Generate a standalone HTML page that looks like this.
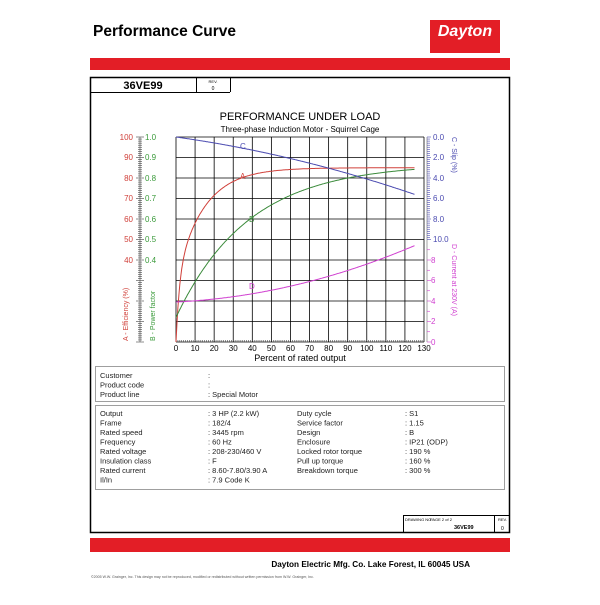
<!DOCTYPE html>
<html><head><meta charset="utf-8"><style>
body{margin:0;background:#fff;width:600px;height:600px;overflow:hidden;font-family:"Liberation Sans",Arial,sans-serif}
</style></head><body>
<svg id="s" width="600" height="600" xmlns="http://www.w3.org/2000/svg" font-family="Liberation Sans, Arial, sans-serif">
<text x="93" y="36" font-size="15.5" font-weight="bold">Performance Curve</text>
<rect x="430" y="20" width="70" height="33" fill="#e31e26"/>
<text x="465" y="36" font-size="16" font-weight="bold" font-style="italic" fill="#fff" text-anchor="middle">Dayton</text>
<rect x="90" y="58" width="420" height="12" fill="#e31e26"/>
<rect x="90.5" y="77.5" width="419" height="455" fill="none" stroke="#000" stroke-width="1.5"/>
<path d="M90 92.5H230M196.5 77V92M230.5 77V92" stroke="#000" stroke-width="1"/>
<text x="143" y="89" font-size="11" font-weight="bold" text-anchor="middle">36VE99</text>
<text x="213" y="83" font-size="4" text-anchor="middle">REV.</text>
<text x="213" y="90" font-size="5" text-anchor="middle">0</text>
<text x="300" y="120" font-size="11" text-anchor="middle">PERFORMANCE UNDER LOAD</text>
<text x="300" y="132" font-size="8" text-anchor="middle">Three-phase Induction Motor - Squirrel Cage</text>
<g id="grid" stroke="#000" stroke-width="0.8"></g>
<g id="ticks" stroke-width="0.6"></g>
<g font-size="8" fill="#d0403a" text-anchor="end">
<text x="133" y="140">100</text><text x="133" y="160">90</text><text x="133" y="181">80</text><text x="133" y="201">70</text><text x="133" y="222">60</text><text x="133" y="242">50</text><text x="133" y="263">40</text>
</g>
<g font-size="8" fill="#3a9a3a">
<text x="145" y="140">1.0</text><text x="145" y="160">0.9</text><text x="145" y="181">0.8</text><text x="145" y="201">0.7</text><text x="145" y="222">0.6</text><text x="145" y="242">0.5</text><text x="145" y="263">0.4</text>
</g>
<text transform="translate(128,341) rotate(-90)" font-size="7" fill="#d0403a">A - Efficiency (%)</text>
<text transform="translate(155,341) rotate(-90)" font-size="7" fill="#3a9a3a">B - Power factor</text>
<g font-size="8" fill="#4a4ab0">
<text x="433" y="140">0.0</text><text x="433" y="160">2.0</text><text x="433" y="181">4.0</text><text x="433" y="201">6.0</text><text x="433" y="222">8.0</text><text x="433" y="242">10.0</text>
</g>
<g font-size="8" fill="#d040d0">
<text x="431" y="263">8</text><text x="431" y="283">6</text><text x="431" y="304">4</text><text x="431" y="324">2</text><text x="431" y="345">0</text>
</g>
<text transform="translate(452,137) rotate(90)" font-size="7" fill="#4a4ab0">C - Slip (%)</text>
<text transform="translate(452,244) rotate(90)" font-size="7" fill="#d040d0">D - Current at 230V (A)</text>
<g id="xl" font-size="8" text-anchor="middle"></g>
<text x="300" y="361" font-size="9" text-anchor="middle">Percent of rated output</text>
<g fill="none" stroke-width="1">
<polyline id="A" stroke="#d0403a"/>
<polyline id="B" stroke="#3a8a3a"/>
<polyline id="C" stroke="#4a4ab0"/>
<polyline id="D" stroke="#d040d0"/>
</g>
<text x="240" y="179" font-size="8" fill="#d0403a">A</text>
<text x="249" y="222" font-size="8" fill="#3a8a3a">B</text>
<text x="240" y="149" font-size="8" fill="#4a4ab0">C</text>
<text x="249" y="289" font-size="8" fill="#d040d0">D</text>
<rect x="95.5" y="366.5" width="409" height="35" fill="none" stroke="#888" stroke-width="0.8"/>
<rect x="95.5" y="405.5" width="409" height="84" fill="none" stroke="#888" stroke-width="0.8"/>
<g font-size="7.5" fill="#222">
<text x="100" y="378">Customer</text><text x="208" y="378">:</text>
<text x="100" y="387.5">Product code</text><text x="208" y="387.5">:</text>
<text x="100" y="397">Product line</text><text x="208" y="397">:  Special Motor</text>
<text x="100" y="416">Output</text><text x="208" y="416">:  3 HP (2.2 kW)</text>
<text x="100" y="425.5">Frame</text><text x="208" y="425.5">:  182/4</text>
<text x="100" y="435">Rated speed</text><text x="208" y="435">:  3445 rpm</text>
<text x="100" y="444.5">Frequency</text><text x="208" y="444.5">:  60 Hz</text>
<text x="100" y="454">Rated voltage</text><text x="208" y="454">:  208-230/460 V</text>
<text x="100" y="463.5">Insulation class</text><text x="208" y="463.5">:  F</text>
<text x="100" y="473">Rated current</text><text x="208" y="473">:  8.60-7.80/3.90 A</text>
<text x="100" y="482.5">Il/In</text><text x="208" y="482.5">:  7.9   Code K</text>
<text x="297" y="416">Duty cycle</text><text x="405" y="416">:  S1</text>
<text x="297" y="425.5">Service factor</text><text x="405" y="425.5">:  1.15</text>
<text x="297" y="435">Design</text><text x="405" y="435">:  B</text>
<text x="297" y="444.5">Enclosure</text><text x="405" y="444.5">:  IP21 (ODP)</text>
<text x="297" y="454">Locked rotor torque</text><text x="405" y="454">:  190 %</text>
<text x="297" y="463.5">Pull up torque</text><text x="405" y="463.5">:  160 %</text>
<text x="297" y="473">Breakdown torque</text><text x="405" y="473">:  300 %</text>
</g>
<path d="M403.5 515V532M403.5 515.5H510M494.5 515V532" stroke="#000" stroke-width="1"/>
<text x="405" y="521" font-size="4">DRAWING NO.</text>
<text x="430" y="521" font-size="4">PAGE 2 of 2</text>
<text x="498" y="521" font-size="4">REV.</text>
<text x="454" y="529" font-size="5.5" font-weight="bold">36VE99</text>
<text x="501" y="530" font-size="5">0</text>
<rect x="90" y="538" width="420" height="14" fill="#e31e26"/>
<text x="470" y="567" font-size="8.2" font-weight="bold" text-anchor="end">Dayton Electric Mfg. Co.  Lake Forest, IL  60045  USA</text>
<text x="91" y="578" font-size="3.6" fill="#555">©2005 W.W. Grainger, Inc.    This design may not be reproduced, modified or redistributed without written permission from W.W. Grainger, Inc.</text>
</svg>
<script>
var NS="http://www.w3.org/2000/svg";
function el(p,t,a,txt){var e=document.createElementNS(NS,t);for(var k in a)e.setAttribute(k,a[k]);if(txt!=null)e.textContent=txt;document.getElementById(p).appendChild(e);}
var L=176,R=424,T=137,B=342,W=R-L,H=B-T;
function X(p){return L+p*W/130}
function Y(f){return B-f*H}
for(var i=0;i<=13;i++){el('grid','line',{x1:X(i*10),x2:X(i*10),y1:T,y2:B});}
for(var j=0;j<=10;j++){var y=T+j*H/10;el('grid','line',{x1:L,x2:R,y1:y,y2:y});}
for(var i=0;i<=13;i++)el('xl','text',{x:X(i*10),y:351},String(i*10));
el('ticks','line',{x1:140,x2:140,y1:T,y2:B,stroke:'#444'});
for(var k=0;k<=100;k++){var y=T+k*H/100;var w=(k%10==0)?4:2;el('ticks','line',{x1:140-w,x2:140+w,y1:y,y2:y,stroke:'#444'});}
el('ticks','line',{x1:427,x2:427,y1:T,y2:B,stroke:'#666'});
for(var k=0;k<=100;k++){var y=T+k*H/100;if(k>50&&k%5)continue;el('ticks','line',{x1:427,x2:(k%10==0)?431:430,y1:y,y2:y,stroke:k<=50?'#4a4ab0':'#d040d0'});}
for(var k=0;k<=130;k++){var x=X(k);el('ticks','line',{x1:x,x2:x,y1:B,y2:B-((k%10==0)?0:2),stroke:'#444'});}
function pts(f){var s=[];for(var p=0;p<=125;p+=0.5){s.push(X(p).toFixed(1)+','+f(p).toFixed(1));}return s.join(' ');}
document.getElementById('A').setAttribute('points',pts(function(p){var e=(85-54*Math.exp(-p/14.4))*(1-Math.exp(-p/1.5));return Y(e/100);}));
document.getElementById('B').setAttribute('points',pts(function(p){var f=0.12+0.75*(1-Math.exp(-p/38));return Y(f);}));
document.getElementById('C').setAttribute('points',pts(function(p){var s=0.026*p+0.00015*p*p;return T+s*H/20;}));
document.getElementById('D').setAttribute('points',pts(function(p){var c=3.9+0.009*p+0.00028*p*p;return B-c*H/20;}));
</script>
</body></html>
